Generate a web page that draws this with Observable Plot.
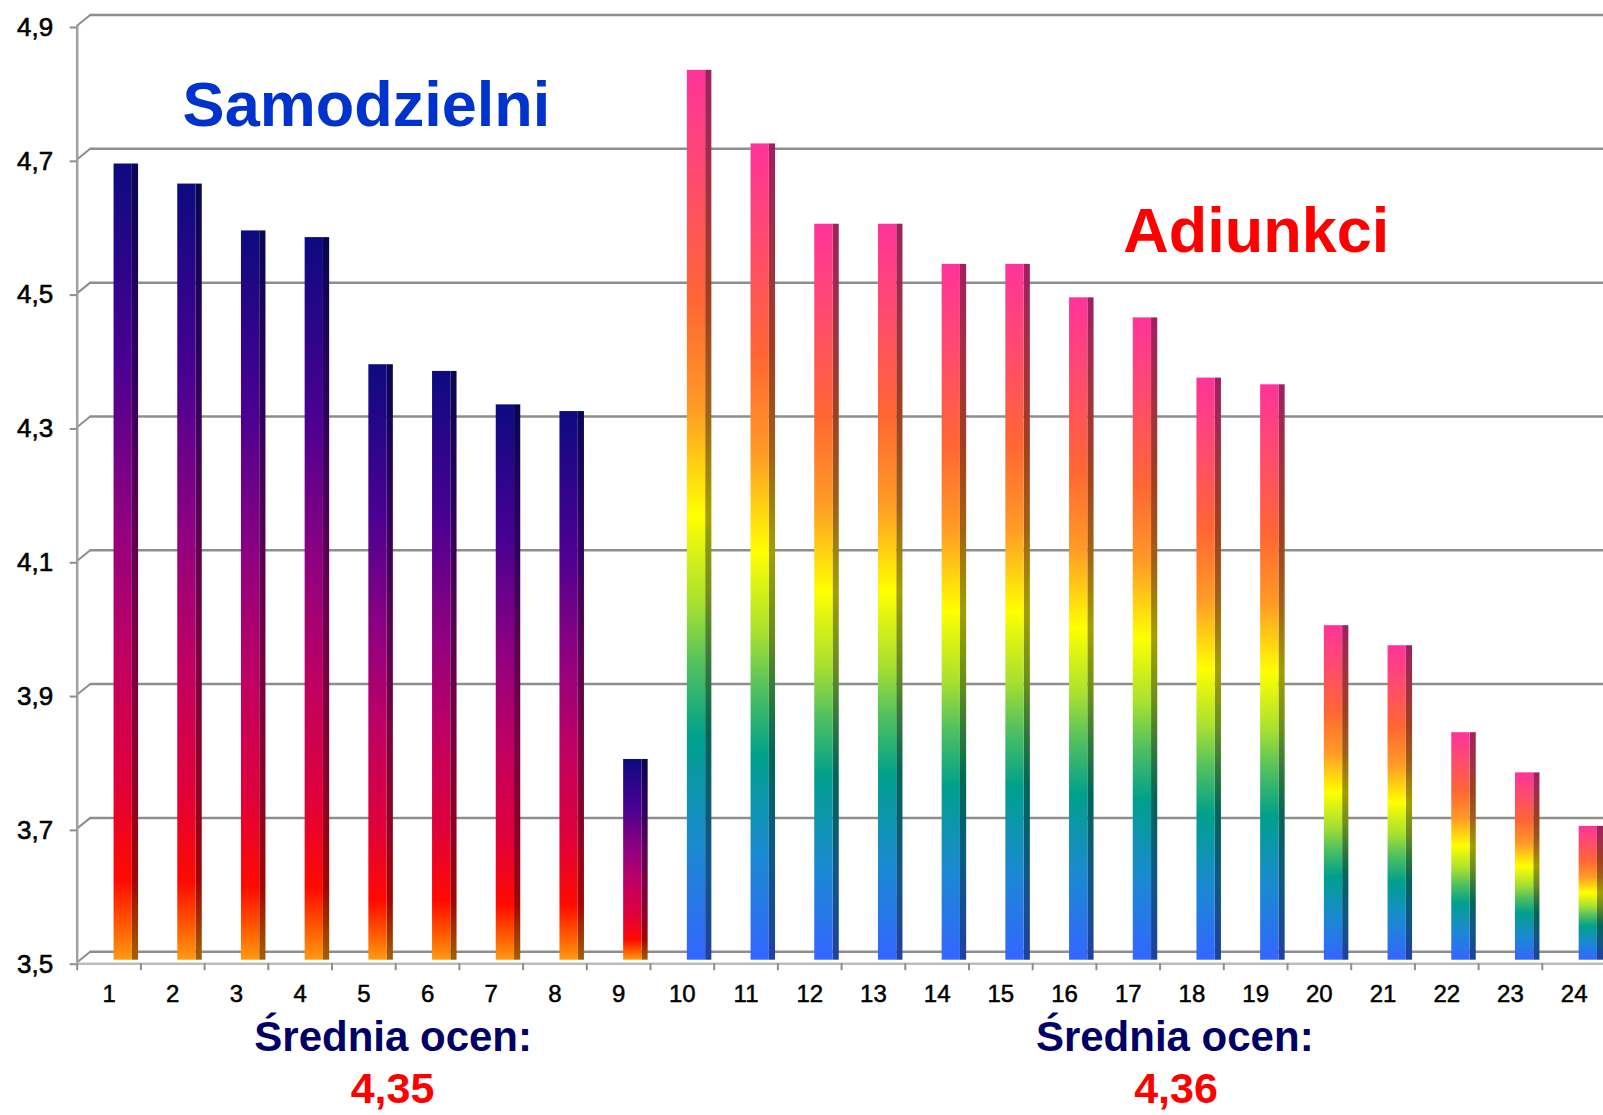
<!DOCTYPE html>
<html>
<head>
<meta charset="utf-8">
<script src="https://cdn.jsdelivr.net/npm/d3@7"></script>
<script src="https://cdn.jsdelivr.net/npm/@observablehq/plot@0.6"></script>
<style>
  html, body { margin: 0; padding: 0; background: #fff; overflow: hidden; }
  #chart { width: 1603px; height: 1115px; overflow: hidden; }
</style>
</head>
<body>
<div id="chart"></div>
<script>
// ---------- data ----------
const categories = [1, 2, 3, 4, 5, 6, 7, 8, 9, 10, 11, 12, 13, 14, 15, 16, 17, 18, 19, 20, 21, 22, 23, 24];
const samodzielni = [4.69, 4.66, 4.59, 4.58, 4.39, 4.38, 4.33, 4.32, 3.80];
const adiunkci = [4.83, 4.72, 4.60, 4.60, 4.54, 4.54, 4.49, 4.46, 4.37, 4.36, 4.00, 3.97, 3.84, 3.78, 3.70];
const yTicks = [3.5, 3.7, 3.9, 4.1, 4.3, 4.5, 4.7, 4.9];
const groupNames = ["Samodzielni", "Adiunkci"];
const averageLabel = "Średnia ocen:";
const averages = ["4,35", "4,36"];

// ---------- derived table ----------
const rows = categories.map((c, i) => ({
  cat: c,
  value: i < samodzielni.length ? samodzielni[i] : adiunkci[i - samodzielni.length]
}));
const rowsS = rows.slice(0, samodzielni.length);
const rowsA = rows.slice(samodzielni.length);
const boundaries = categories.map(c => c - 0.5).concat([categories[categories.length - 1] + 0.5]);

// ---------- styles ----------
const stopsS = [[0, "#0d0a80"], [0.25, "#4a0092"], [0.45, "#900080"], [0.62, "#c00062"], [0.78, "#e0003a"], [0.9, "#ff0a00"], [0.95, "#ff5000"], [1, "#ff9a10"]];
const stopsA = [[0, "#ff3399"], [0.12, "#ff4a70"], [0.26, "#ff6633"], [0.38, "#ff9a26"], [0.5, "#ffff00"], [0.6, "#a8e030"], [0.67, "#50c060"], [0.75, "#00a08c"], [0.87, "#1a8ad0"], [1, "#3366ff"]];
const FONT = "'Liberation Sans', Arial, Helvetica, sans-serif";
const GRID = "#8e8e8e";
const WALL = {dx: 13, dy: -10.5};          // back wall offset (px)
const BAR = {inL: 36.85, inR: 8.55, sideR: 2.35, depthX: 6.2, depthY: 4.3, lift: -2};

const annotations = [
  {text: groupNames[0], x: 5.04, y: 4.78, fill: "#0033cc", size: 63},
  {text: groupNames[1], x: 19.01, y: 4.591, fill: "#ff0000", size: 63},
  {text: averageLabel, x: 5.46, y: 3.388, fill: "#000066", size: 42},
  {text: averageLabel, x: 17.73, y: 3.388, fill: "#000066", size: 42},
  {text: averages[0], x: 5.45, y: 3.3095, fill: "#ff0000", size: 43},
  {text: averages[1], x: 17.75, y: 3.3095, fill: "#ff0000", size: 43}
];

function defsMark() {
  return () => {
    const defs = d3.create("svg:defs");
    const add = (id, stops, darker) => {
      const g = defs.append("linearGradient").attr("id", id)
        .attr("x1", 0).attr("y1", 0).attr("x2", 0).attr("y2", 1);
      stops.forEach(([o, c]) => g.append("stop").attr("offset", o)
        .attr("stop-color", darker ? d3.color(c).darker(darker).formatHex() : c));
    };
    add("gradS", stopsS, 0);
    add("gradSd", stopsS, 1.3);
    add("gradA", stopsA, 0);
    add("gradAd", stopsA, 1.3);
    return defs.node();
  };
}

const xx = {x1: d => d.cat - 0.5, x2: d => d.cat + 0.5};
function barMarks(data, front, side, top, key) {
  return [
    Plot.rectY(data, {...xx, y1: 3.5, y2: "value", insetLeft: BAR.inL + 18.3, insetRight: BAR.sideR, dy: BAR.lift, fill: side, ariaLabel: "side-" + key}),
    Plot.rectY(data, {...xx, y1: 3.5, y2: "value", insetLeft: BAR.inL, insetRight: BAR.inR, dy: BAR.lift, fill: front, ariaLabel: "front-" + key}),
    Plot.rectY(data, {...xx, y1: "value", y2: "value", insetLeft: BAR.inL, insetRight: BAR.inR, dy: BAR.lift, fill: top, ariaLabel: "top-" + key})
  ];
}

const chart = Plot.plot({
  width: 1603,
  height: 1115,
  marginLeft: 76.7,
  marginRight: 0,
  marginTop: 25,
  marginBottom: 153.3,
  style: {fontFamily: FONT, background: "#fff", overflow: "hidden"},
  x: {domain: [0.5, 24.5], range: [76.7, 1605.5], axis: null},
  y: {domain: [3.5, 4.9], axis: null},
  color: {type: "identity"},
  marks: [
    defsMark(),
    Plot.gridY(yTicks, {stroke: GRID, strokeOpacity: 1, strokeWidth: 2.5, dx: WALL.dx, dy: WALL.dy}),
    Plot.vector(yTicks, {
      x: 0.5, y: d => d, length: Math.hypot(WALL.dx, WALL.dy), rotate: Math.atan2(WALL.dx, -WALL.dy) * 180 / Math.PI,
      anchor: "start", stroke: GRID, strokeWidth: 2,
      shape: {draw(ctx, l) { ctx.moveTo(0, 0); ctx.lineTo(0, -l); }}
    }),
    Plot.ruleY([3.5], {stroke: "#bdbdbd", strokeWidth: 2.5, dy: 1.5}),
    Plot.ruleX([0.5], {stroke: "#a0a0a0", strokeWidth: 2.5}),
    Plot.axisY({ticks: yTicks, tickSize: 7, tickPadding: 17, label: null, stroke: GRID, strokeWidth: 2,
      tickFormat: d => d.toFixed(1).replace(".", ","), fontSize: 26, fill: "#000", dy: 2,
      textStroke: "#000", textStrokeWidth: 0.6, textStrokeOpacity: 1}),
    Plot.axisX({ticks: boundaries, tickSize: 7, tickFormat: () => "", label: null, stroke: GRID, strokeWidth: 2, dy: 1.5}),
    Plot.axisX({ticks: categories, tickSize: 0, tickPadding: 23, label: null, fontSize: 24, fill: "#000",
      textStroke: "#000", textStrokeWidth: 0.5, textStrokeOpacity: 1,
      tickFormat: d => String(d)}),
    ...barMarks(rowsS, "url(#gradS)", "url(#gradSd)", "#0a0866", "S"),
    ...barMarks(rowsA, "url(#gradA)", "url(#gradAd)", "#c02a78", "A"),
    Plot.text(annotations, {x: "x", y: "y", text: "text", fill: "fill", fontSize: "size", fontWeight: "bold", fontFamily: FONT})
  ]
});

// 3D faces: skew the side and top rectangles that Plot placed from the scales
const sel = d3.select(chart);
sel.selectAll('g[aria-label^="side-"] rect').each(function () {
  const r = d3.select(this);
  const x = +r.attr("x"), w = +r.attr("width");
  const k = -BAR.depthY / w;
  r.attr("transform", `matrix(1,${k},0,1,0,${-k * x})`);
});
sel.selectAll('g[aria-label^="top-"] rect').each(function () {
  const r = d3.select(this);
  const y = +r.attr("y");
  r.attr("y", y - BAR.depthY).attr("height", BAR.depthY);
  const k = -BAR.depthX / BAR.depthY;
  r.attr("transform", `matrix(1,0,${k},1,${-k * y},0)`);
});

document.getElementById("chart").appendChild(chart);
</script>
</body>
</html>
